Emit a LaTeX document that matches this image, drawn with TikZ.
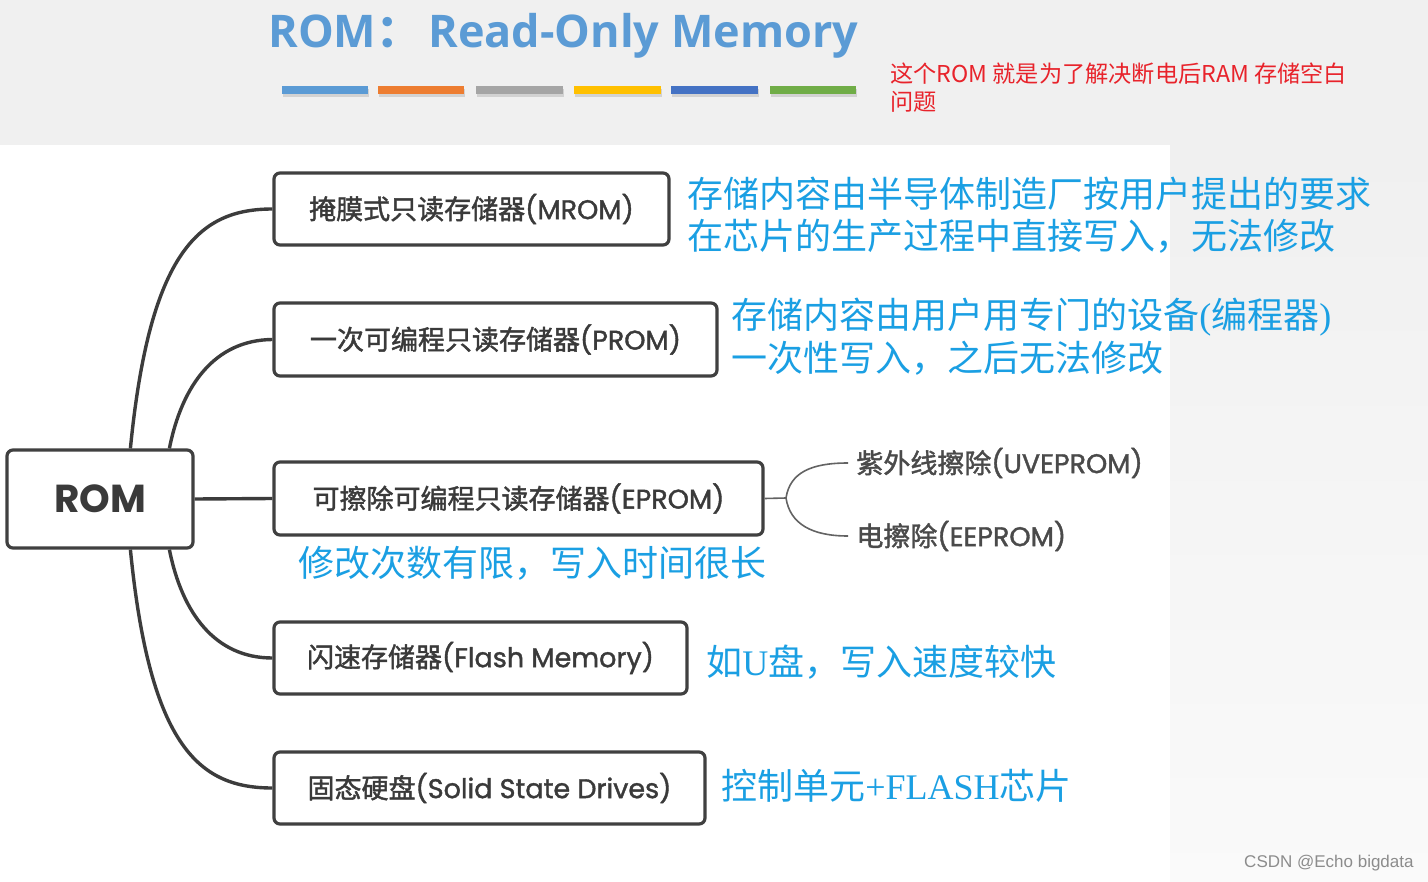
\documentclass[tikz,border=0pt]{standalone}
\usepackage{fontspec}
\setmainfont{Poppins}
\newfontfamily\cjk{Noto Sans CJK SC}
\newfontfamily\cjkmed{Noto Sans CJK SC}[FakeBold=1.6]
\newfontfamily\popmed{Poppins}[FakeBold=1.4]
\newfontfamily\titlefont{Open Sans}
\newfontfamily\serif{Liberation Serif}
\newfontfamily\wmfont{Liberation Sans}
\definecolor{bggray}{HTML}{F0F0F0}
\definecolor{titleblue}{HTML}{5B9BD5}
\definecolor{barA}{HTML}{5B9BD5}
\definecolor{barB}{HTML}{ED7D31}
\definecolor{barC}{HTML}{A5A5A5}
\definecolor{barD}{HTML}{FFC000}
\definecolor{barE}{HTML}{4472C4}
\definecolor{barF}{HTML}{70AD47}
\definecolor{redc}{HTML}{E8232B}
\definecolor{boxc}{HTML}{404040}
\definecolor{boxtext}{HTML}{3A3A3A}
\definecolor{noteblue}{HTML}{1A9FE3}
\definecolor{subtext}{HTML}{4A4A4A}
\definecolor{connc}{HTML}{3C3C3C}
\tikzset{
  rombox/.style={draw=boxc, line width=1.6pt, rounded corners=3pt, fill=white,
    inner sep=0pt, align=center, text=boxtext, font=\popmed\fontsize{13.5}{16}\selectfont},
  conn/.style={draw=connc, line width=1.7pt},
  subconn/.style={draw=connc!80, line width=0.8pt},
  note/.style={text=noteblue, font=\cjk\fontsize{18}{21}\selectfont, anchor=west, align=left, inner sep=0pt},
  subnode/.style={text=subtext, font=\popmed\fontsize{13.5}{16}\selectfont, anchor=west, inner sep=4pt}
}
\begin{document}
\begin{tikzpicture}[x=0.5pt,y=-0.5pt]
\useasboundingbox (0,0) rectangle (1428,882);
% background
\fill[bggray] (0,0) rectangle (1428,145);
\fill[white] (0,145) rectangle (1170,882);
\shade[top color=bggray, bottom color=white!98!black] (1170,145) rectangle (1428,882);

% title
\node[anchor=base west, inner sep=0pt, text=titleblue, font=\titlefont\bfseries\fontsize{22.5}{28}\selectfont] (title) at (268,48) {ROM{\cjk ：}\hspace{3.5pt}Read-Only Memory};

% colour bars with soft shadow
\foreach \a/\b/\c in {282/368/barA,378/464/barB,476/563/barC,574/661/barD,671/758/barE,770/856/barF}{
  \fill[black, opacity=0.12] (\a+1,89) rectangle (\b+1,97);
  \fill[\c] (\a,86) rectangle (\b,94);
}

% red note
\node[anchor=north west, align=left, inner sep=0pt, text=redc, font=\cjk\fontsize{11.6}{14.3}\selectfont] (rednote) at (890,62) {这个ROM 就是为了解决断电后RAM 存储空白\\问题};

% boxes
\node[rombox, minimum width=93pt, minimum height=49pt, font=\bfseries\fontsize{19.5}{22}\selectfont] (rom) at (100,499) {ROM};
\node[rombox, minimum width=197.5pt, minimum height=36pt] (mrom) at (471.5,209) {{\cjkmed 掩膜式只读存储器}(MROM)};
\node[rombox, minimum width=221.5pt, minimum height=36.5pt] (prom) at (495.5,339.5) {{\cjkmed 一次可编程只读存储器}(PROM)};
\node[rombox, minimum width=244.5pt, minimum height=36.5pt] (eprom) at (518.5,498.5) {{\cjkmed 可擦除可编程只读存储器}(EPROM)};
\node[rombox, minimum width=206.5pt, minimum height=36pt] (flash) at (480.5,658) {{\cjkmed 闪速存储器}(Flash Memory)};
\node[rombox, minimum width=215.5pt, minimum height=36pt] (ssd) at (489.5,788) {{\cjkmed 固态硬盘}(Solid State Drives)};

% connectors from ROM
\draw[conn] ([xshift=62.5pt]rom.north west) .. controls (150,250) and (200,209) .. (mrom.west);
\draw[conn] ([xshift=82pt]rom.north west) .. controls (182,385) and (215,340) .. (prom.west);
\draw[conn] (rom.east) -- (eprom.west);
\draw[conn] ([xshift=82pt]rom.south west) .. controls (182,613) and (215,658) .. (flash.west);
\draw[conn] ([xshift=62.5pt]rom.south west) .. controls (150,748) and (200,788) .. (ssd.west);

% EPROM sub-branches
\coordinate (fork) at (786,498);
\node[subnode] (uv) at (848,463) {{\cjkmed 紫外线擦除}(UVEPROM)};
\node[subnode] (ee) at (848,536) {{\cjkmed 电擦除}(EEPROM)};
\draw[subconn] (eprom.east) -- (fork);
\draw[subconn] (fork) .. controls (790,472) and (812,463) .. (uv.west);
\draw[subconn] (fork) .. controls (790,524) and (812,536) .. (ee.west);

% blue notes
\node[note] (mnote) at (687,215.5) {存储内容由半导体制造厂按用户提出的要求\\在芯片的生产过程中直接写入，无法修改};
\node[note, font=\cjk\fontsize{18}{21.5}\selectfont] (pnote) at (731,337) {存储内容由用户用专门的设备{\serif (}编程器{\serif )}\\一次性写入，之后无法修改};
\node[note] (enote) at (298,563) {修改次数有限，写入时间很长};
\node[note] (fnote) at (706,662) {如{\serif U}盘，写入速度较快};
\node[note] (snote) at (721,786) {控制单元{\serif +FLASH}芯片};

% watermark
\node[anchor=east, inner sep=0pt, text=black!45, font=\wmfont\fontsize{8.5}{10}\selectfont] (wm) at (1414,863) {CSDN @Echo bigdata};
\end{tikzpicture}
\end{document}
